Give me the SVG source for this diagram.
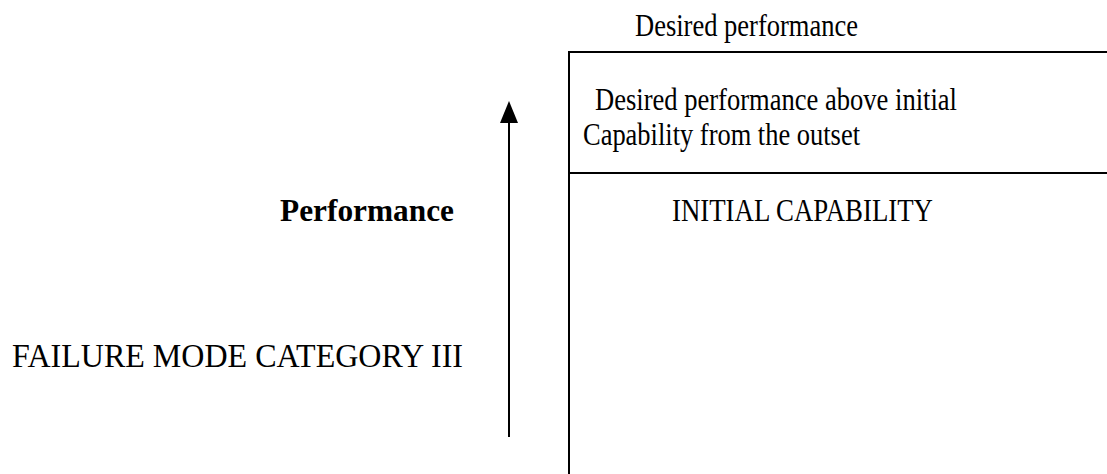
<svg xmlns="http://www.w3.org/2000/svg" width="1107" height="474" viewBox="0 0 1107 474">
<style>
text{font-family:"Liberation Serif","Times New Roman",serif;font-size:31px;fill:#000}
.b{font-weight:bold}
.ln{stroke:#000;stroke-width:2;fill:none}
</style>
<rect width="1107" height="474" fill="#fff"/>
<g id="box">
<line class="ln" x1="569" y1="51" x2="569" y2="474"/>
<line class="ln" x1="569" y1="52" x2="1107" y2="52"/>
<line class="ln" x1="569" y1="173" x2="1107" y2="173"/>
</g>
<g id="labels">
<text x="635" y="36" textLength="223" lengthAdjust="spacingAndGlyphs">Desired performance</text>
<text x="595" y="110" textLength="362" lengthAdjust="spacingAndGlyphs">Desired performance above initial</text>
<text x="583" y="145" textLength="277" lengthAdjust="spacingAndGlyphs">Capability from the outset</text>
<text x="672" y="221" textLength="261" lengthAdjust="spacingAndGlyphs">INITIAL CAPABILITY</text>
<text class="b" x="280" y="221" textLength="174" lengthAdjust="spacingAndGlyphs">Performance</text>
<text x="12" y="367" style="font-size:33px" textLength="451" lengthAdjust="spacingAndGlyphs">FAILURE MODE CATEGORY III</text>
</g>
<g id="connectors">
<line class="ln" x1="509" y1="437" x2="509" y2="120"/>
<polygon points="509,101 500,123 518,123" fill="#000"/>
</g>
</svg>
